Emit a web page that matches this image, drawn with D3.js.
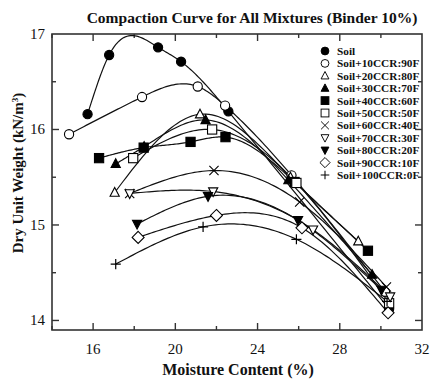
<!DOCTYPE html>
<html>
<head>
<meta charset="utf-8">
<script src="https://cdn.jsdelivr.net/npm/d3@7/dist/d3.min.js"></script>
<style>
  html, body { margin: 0; padding: 0; background: #fff; }
  svg { display: block; }
  text { font-family: "Liberation Serif", "Times New Roman", serif; fill: #111; }
</style>
</head>
<body>
<script>
// Moisture content (%) and dry unit weight (kN/m³) for each mixture
const seriesNames = [
  "Soil", "Soil+10CCR:90F", "Soil+20CCR:80F", "Soil+30CCR:70F", "Soil+40CCR:60F",
  "Soil+50CCR:50F", "Soil+60CCR:40F", "Soil+70CCR:30F", "Soil+80CCR:20F",
  "Soil+90CCR:10F", "Soil+100CCR:0F"
];
const soil      = [[15.73,16.16],[16.78,16.78],[19.16,16.86],[20.28,16.71],[22.58,16.19],[30.4,14.12]];
const ccr10     = [[14.83,15.95],[18.38,16.34],[21.09,16.45],[22.42,16.25],[25.65,15.52],[30.2,14.3]];
const ccr20     = [[17.05,15.34],[21.2,16.16],[25.6,15.5],[28.9,14.83]];
const ccr30     = [[17.1,15.64],[18.48,15.82],[21.47,16.10],[25.5,15.47],[29.57,14.48]];
const ccr40     = [[16.29,15.70],[18.46,15.81],[20.74,15.87],[22.44,15.92],[25.8,15.45],[29.37,14.73]];
const ccr50     = [[17.95,15.70],[21.79,16.0],[25.89,15.44],[30.4,14.18]];
const ccr60     = [[17.78,15.33],[21.88,15.57],[26.05,15.24],[30.27,14.35]];
const ccr70     = [[17.78,15.33],[21.84,15.35],[26.7,14.95],[30.45,14.25]];
const ccr80     = [[18.14,15.01],[21.59,15.30],[25.97,15.05],[30.03,14.32]];
const ccr90     = [[18.19,14.87],[22.0,15.10],[26.16,14.97],[30.35,14.08]];
const ccr100    = [[17.1,14.59],[21.35,14.98],[25.89,14.85],[30.3,14.2]];
const seriesData = [soil, ccr10, ccr20, ccr30, ccr40, ccr50, ccr60, ccr70, ccr80, ccr90, ccr100];
const markerKinds = ["circleF","circleO","triO","triF","squareF","squareO","cross","triDownO","triDownF","diamondO","plus"];

const xTicks = [16, 20, 24, 28, 32];
const yTicks = [14, 15, 16, 17];

const W = 431, H = 380;
const margin = { left: 52, right: 9, top: 34, bottom: 50 };

const svg = d3.select("body").append("svg").attr("width", W).attr("height", H);

const x = d3.scaleLinear().domain([14, 32]).range([margin.left, W - margin.right]);
const y = d3.scaleLinear().domain([13.9, 17]).range([H - margin.bottom, margin.top]);

const axisColor = "#333";

// Inward ticks on all four sides
const minorX = d3.range(14, 32.01, 2).filter(v => v % 4 !== 0);
const minorY = d3.range(14.5, 17, 1);
const plot = svg.append("g");

function tickSet(vals, len, side) {
  vals.forEach(v => {
    if (side === "bottom") plot.append("line").attr("x1", x(v)).attr("x2", x(v)).attr("y1", y.range()[0]).attr("y2", y.range()[0] - len);
    if (side === "top") plot.append("line").attr("x1", x(v)).attr("x2", x(v)).attr("y1", y.range()[1]).attr("y2", y.range()[1] + len);
    if (side === "left") plot.append("line").attr("y1", y(v)).attr("y2", y(v)).attr("x1", x.range()[0]).attr("x2", x.range()[0] + len);
    if (side === "right") plot.append("line").attr("y1", y(v)).attr("y2", y(v)).attr("x1", x.range()[1]).attr("x2", x.range()[1] - len);
  });
}
tickSet(xTicks.filter(v => v < 32), 7, "bottom");
tickSet(minorX, 4, "bottom");
tickSet(xTicks.filter(v => v < 32), 7, "top");
tickSet(minorX, 4, "top");
tickSet(yTicks.filter(v => v < 17), 7, "left");
tickSet(minorY, 4, "left");
tickSet(yTicks.filter(v => v < 17), 7, "right");
tickSet(minorY, 4, "right");
plot.selectAll("line").attr("stroke", axisColor).attr("stroke-width", 1.4);

// Frame
svg.append("rect")
  .attr("x", x.range()[0]).attr("y", y.range()[1])
  .attr("width", x.range()[1] - x.range()[0])
  .attr("height", y.range()[0] - y.range()[1])
  .attr("fill", "none").attr("stroke", axisColor).attr("stroke-width", 1.6);

// Tick labels
svg.append("g").selectAll("text").data(xTicks).join("text")
  .attr("x", d => x(d)).attr("y", H - margin.bottom + 24)
  .attr("text-anchor", "middle").attr("font-size", 15).text(d => d);
svg.append("g").selectAll("text").data(yTicks).join("text")
  .attr("x", margin.left - 7).attr("y", d => y(d) + 5)
  .attr("text-anchor", "end").attr("font-size", 15).text(d => d);

// Titles
svg.append("text").attr("x", 252).attr("y", 23).attr("text-anchor", "middle")
  .attr("font-size", 15.5).attr("font-weight", "bold")
  .text("Compaction Curve for All Mixtures (Binder 10%)");
svg.append("text").attr("x", 238).attr("y", 375).attr("text-anchor", "middle")
  .attr("font-size", 16).attr("font-weight", "bold").text("Moisture Content (%)");
const yl = svg.append("text").attr("transform", "translate(23,173) rotate(-90)")
  .attr("text-anchor", "middle").attr("font-size", 15).attr("font-weight", "bold");
yl.append("tspan").text("Dry Unit Weight (kN/m");
yl.append("tspan").attr("dy", -5).attr("font-size", 9).text("3");
yl.append("tspan").attr("dy", 5).text(")");

// Natural cubic spline y(x) through the measured points, sampled finely
function splineSamples(pts) {
  const n = pts.length;
  const xs = pts.map(p => p[0]), ys = pts.map(p => p[1]);
  const h = d3.range(n - 1).map(i => xs[i + 1] - xs[i]);
  const m = new Array(n).fill(0);
  if (n > 2) {
    const a = [], b = [], c = [], r = [];
    for (let i = 1; i < n - 1; i++) {
      a.push(h[i - 1]); b.push(2 * (h[i - 1] + h[i])); c.push(h[i]);
      r.push(6 * ((ys[i + 1] - ys[i]) / h[i] - (ys[i] - ys[i - 1]) / h[i - 1]));
    }
    const k = r.length;
    for (let i = 1; i < k; i++) {
      const w = a[i] / b[i - 1];
      b[i] -= w * c[i - 1]; r[i] -= w * r[i - 1];
    }
    const sol = new Array(k);
    sol[k - 1] = r[k - 1] / b[k - 1];
    for (let i = k - 2; i >= 0; i--) sol[i] = (r[i] - c[i] * sol[i + 1]) / b[i];
    for (let i = 0; i < k; i++) m[i + 1] = sol[i];
  }
  const out = [];
  for (let i = 0; i < n - 1; i++) {
    const steps = 30;
    for (let s = 0; s <= steps; s++) {
      if (i > 0 && s === 0) continue;
      const t = s / steps, hx = h[i];
      const xv = xs[i] + t * hx;
      const A = 1 - t, B = t;
      const yv = A * ys[i] + B * ys[i + 1] +
        ((A * A * A - A) * m[i] + (B * B * B - B) * m[i + 1]) * hx * hx / 6;
      out.push([xv, yv]);
    }
  }
  return out;
}

// Curves
const line = d3.line().x(d => x(d[0])).y(d => y(d[1]));
svg.append("g").selectAll("path").data(seriesData).join("path")
  .attr("d", d => line(splineSamples(d))).attr("fill", "none")
  .attr("stroke", "#111").attr("stroke-width", 1.2);

// Marker drawing
function drawMarker(g, kind, cx, cy) {
  const s = 4.6;
  const filled = kind.endsWith("F");
  const fill = filled ? "#000" : "#fff";
  let el;
  if (kind.startsWith("circle")) {
    el = g.append("circle").attr("cx", cx).attr("cy", cy).attr("r", s);
  } else if (kind.startsWith("square")) {
    el = g.append("rect").attr("x", cx - s).attr("y", cy - s).attr("width", 2 * s).attr("height", 2 * s);
  } else if (kind === "triO" || kind === "triF") {
    el = g.append("path").attr("d", `M${cx},${cy - s * 1.1}L${cx + s},${cy + s * 0.8}L${cx - s},${cy + s * 0.8}Z`);
  } else if (kind.startsWith("triDown")) {
    el = g.append("path").attr("d", `M${cx},${cy + s * 1.1}L${cx + s},${cy - s * 0.8}L${cx - s},${cy - s * 0.8}Z`);
  } else if (kind === "diamondO") {
    el = g.append("path").attr("d", `M${cx},${cy - s * 1.3}L${cx + s * 1.3},${cy}L${cx},${cy + s * 1.3}L${cx - s * 1.3},${cy}Z`);
  } else if (kind === "cross") {
    g.append("path").attr("d", `M${cx - s},${cy - s}L${cx + s},${cy + s}M${cx - s},${cy + s}L${cx + s},${cy - s}`)
      .attr("fill", "none").attr("stroke", "#000").attr("stroke-width", 1.1);
    return;
  } else if (kind === "plus") {
    g.append("path").attr("d", `M${cx - s * 1.1},${cy}L${cx + s * 1.1},${cy}M${cx},${cy - s * 1.1}L${cx},${cy + s * 1.1}`)
      .attr("fill", "none").attr("stroke", "#000").attr("stroke-width", 1.2);
    return;
  }
  el.attr("fill", fill).attr("stroke", "#000").attr("stroke-width", 1.1);
}

const markers = svg.append("g");
seriesData.forEach((pts, i) => {
  pts.forEach(p => drawMarker(markers, markerKinds[i], x(p[0]), y(p[1])));
});

// Legend
const legend = svg.append("g");
const legX = 325, legY = 51, legStep = 12.4;
seriesNames.forEach((name, i) => {
  const ly = legY + i * legStep;
  const mg = legend.append("g");
  drawMarker(mg, markerKinds[i], legX, ly);
  mg.attr("transform", `translate(${legX},${ly}) scale(0.85) translate(${-legX},${-ly})`);
  legend.append("text").attr("x", legX + 12).attr("y", ly + 4)
    .attr("font-size", 11.3).attr("font-weight", "bold").text(name);
});
</script>
</body>
</html>
